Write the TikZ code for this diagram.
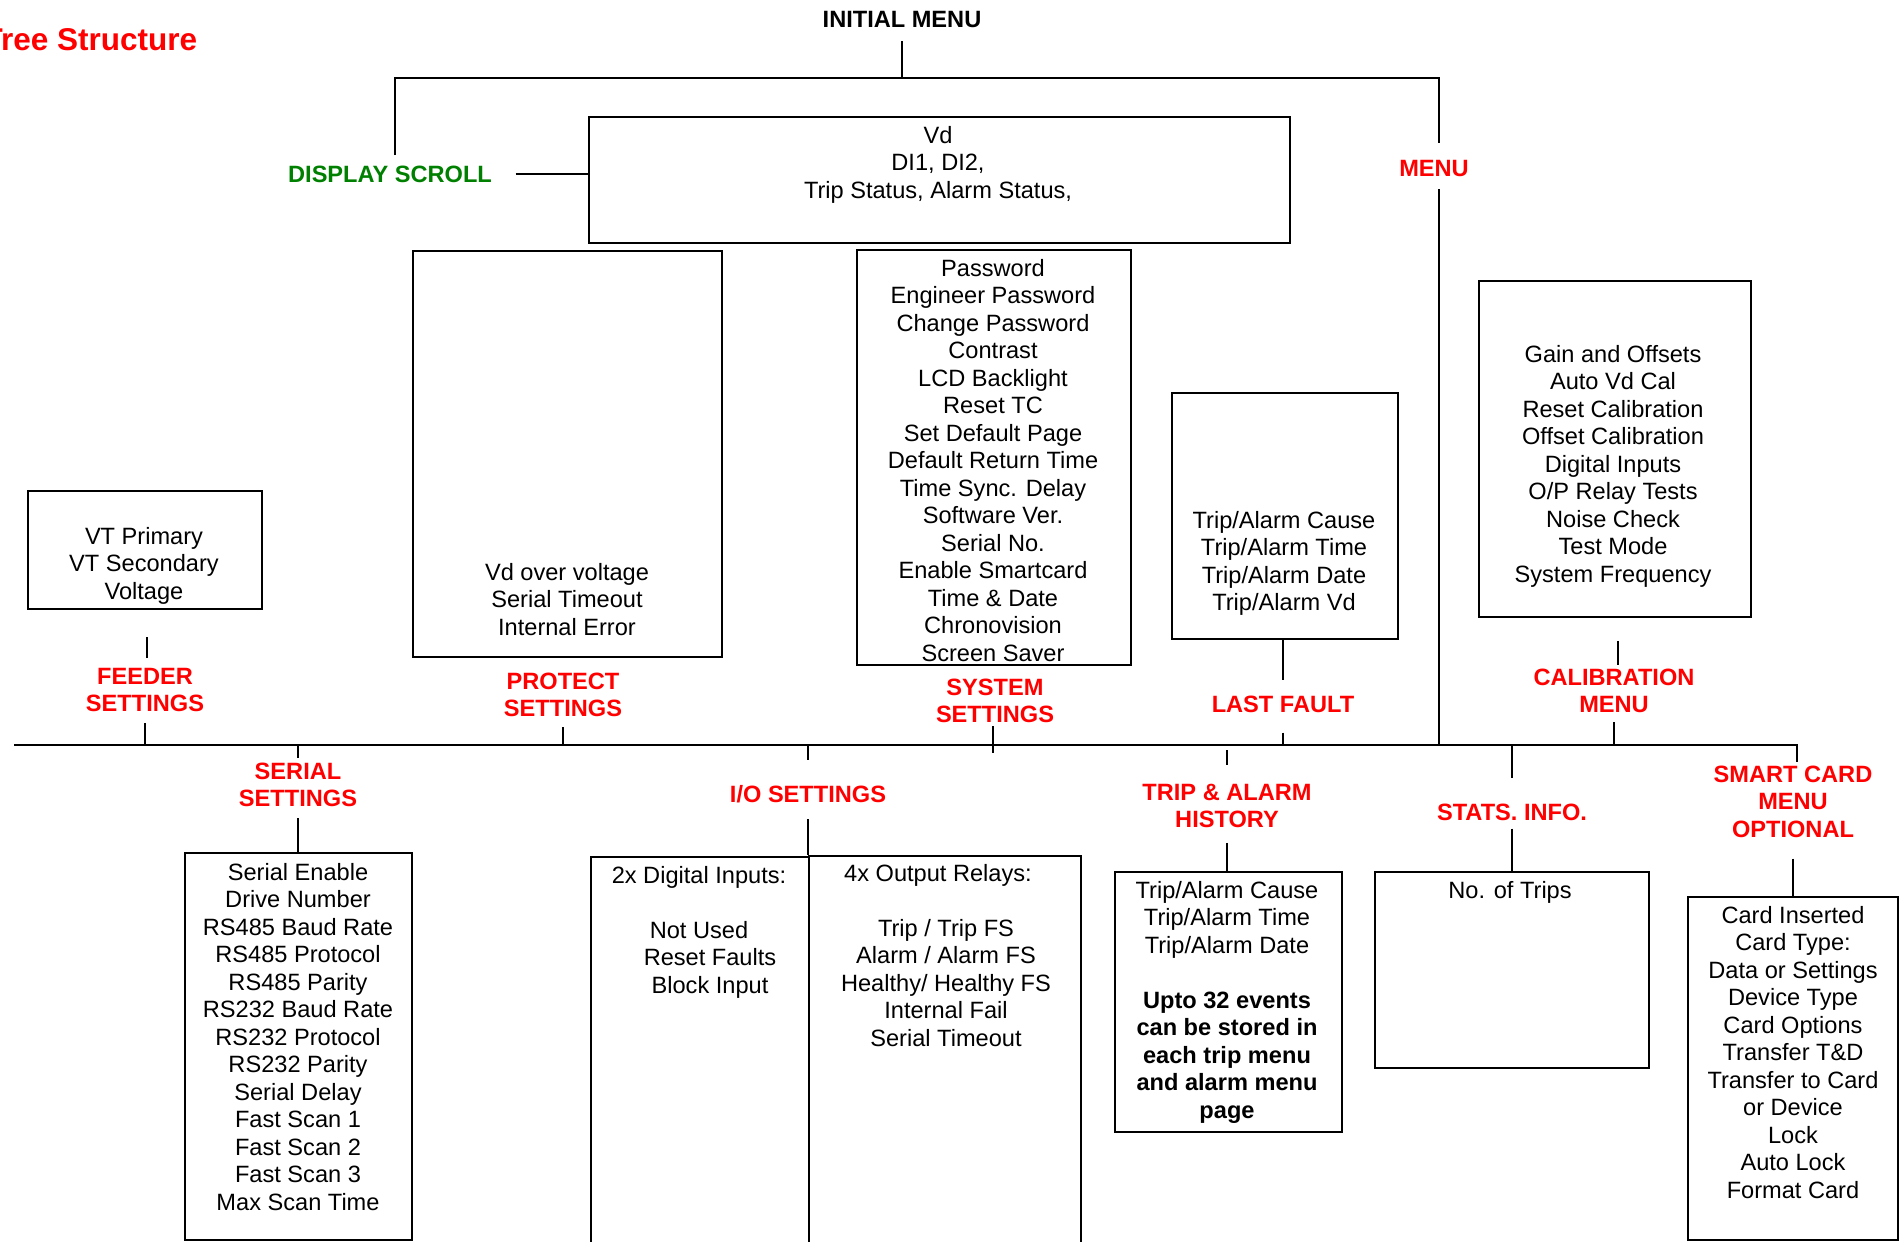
\documentclass[tikz,border=0pt]{standalone}
\usepackage{fontspec}
\setmainfont{Liberation Sans}
\usetikzlibrary{calc}

\begin{document}
\begin{tikzpicture}[x=1pt, y=-1pt, line width=1.8pt,
    box/.style={draw, anchor=north west, inner sep=0pt},
    txt/.style={anchor=north, inner sep=0pt, align=center, font=\fontsize{23.6}{27.5}\selectfont},
    lbl/.style={anchor=north, inner sep=0pt, align=center, text=red, font=\fontsize{23.6}{27.5}\selectfont\bfseries}]
  \useasboundingbox (0,0) rectangle (1899,1242);
  \node[anchor=north east, inner sep=0pt, text=red, font=\fontsize{31.5}{36}\selectfont\bfseries] (tree) at (198,28) {Tree Structure};
  \node[lbl, text=black] (init) at (902,10) {INITIAL MENU};
  \node[lbl, text=green!50!black] (dscroll) at (390,165) {DISPLAY SCROLL};
  \node[lbl] (menu) at (1434,159) {MENU};
  \coordinate (topL) at (395,78);
  \coordinate (topR) at (1439,78);
  \coordinate (busL) at (14,745);
  \coordinate (busR) at (1797,745);
  \node[box, minimum width=701pt, minimum height=126pt] (dispbox) at (588,116) {};
  \node[txt] (disptxt) at (938,125) {Vd\\DI1, DI2,\\Trip Status, Alarm Status,};
  \draw ($(init.south)+(0,13)$) -- (init.south |- topL);
  \draw ($(dscroll.north -| topL)+(0,-10)$) -- (topL) -- (topR) -- ($(menu.north -| topR)+(0,-16)$);
  \draw ($(menu.south -| topR)+(0,12)$) -- (topR |- busL);
  \draw ($(dscroll.east)+(23,0)$) -- (dscroll.east -| dispbox.west);

  \node[box, minimum width=234pt, minimum height=118pt] (feedbox) at (27,490) {};
  \node[txt] (feedtxt) at (144,526) {VT Primary\\VT Secondary\\Voltage};
  \node[box, minimum width=309pt, minimum height=406pt] (protbox) at (412,250) {};
  \node[txt] (prottxt) at (567,562) {Vd over voltage\\Serial Timeout\\Internal Error};
  \node[box, minimum width=274pt, minimum height=415pt] (sysbox) at (856,249) {};
  \node[txt] (systxt) at (993,258) {Password\\Engineer Password\\Change Password\\Contrast\\LCD Backlight\\Reset TC\\Set Default Page\\Default Return Time\\Time Sync. Delay\\Software Ver.\\Serial No.\\Enable Smartcard\\Time \& Date\\Chronovision\\Screen Saver};
  \node[box, minimum width=226pt, minimum height=246pt] (lastbox) at (1171,392) {};
  \node[txt] (lasttxt) at (1284,510) {Trip/Alarm Cause\\Trip/Alarm Time\\Trip/Alarm Date\\Trip/Alarm Vd};
  \node[box, minimum width=272pt, minimum height=336pt] (calbox) at (1478,280) {};
  \node[txt] (caltxt) at (1613,344) {Gain and Offsets\\Auto Vd Cal\\Reset Calibration\\Offset Calibration\\Digital Inputs\\O/P Relay Tests\\Noise Check\\Test Mode\\System Frequency};

  \node[lbl] (feedlbl) at (145,667) {FEEDER\\SETTINGS};
  \node[lbl] (protlbl) at (563,672) {PROTECT\\SETTINGS};
  \node[lbl] (syslbl) at (995,678) {SYSTEM\\SETTINGS};
  \node[lbl] (lastlbl) at (1283,695) {LAST FAULT};
  \node[lbl] (callbl) at (1614,668) {CALIBRATION\\MENU};
  \draw ($(feedlbl.north)+(2,-9)$) -- ++(0,-21);
  \draw ($(feedlbl.south)+(0,10)$) -- (feedlbl.south |- busL);
  \draw ($(protlbl.south)+(0,9)$) -- (protlbl.south |- busL);
  \draw ($(syslbl.south)+(-2,2)$) -- ++(0,27);
  \draw (lastlbl.north |- lastbox.south) -- ($(lastlbl.north)+(0,-15)$);
  \draw ($(lastlbl.south)+(0,19)$) -- (lastlbl.south |- busL);
  \draw ($(calbox.south)+(3,23)$) -- ++(0,24);
  \draw ($(callbl.south)+(0,8)$) -- (callbl.south |- busL);

  \node[lbl] (serlbl) at (298,762) {SERIAL\\SETTINGS};
  \node[lbl] (iolbl) at (808,784) {I/O SETTINGS};
  \node[lbl] (triplbl) at (1227,783) {TRIP \& ALARM\\HISTORY};
  \node[lbl] (statlbl) at (1512,803) {STATS. INFO.};
  \node[lbl] (smartlbl) at (1793,765) {SMART CARD\\MENU\\OPTIONAL};
  \node[box, minimum width=227pt, minimum height=387pt] (serbox) at (184,852) {};
  \node[txt] (sertxt) at (298,862) {Serial Enable\\Drive Number\\RS485 Baud Rate\\RS485 Protocol\\RS485 Parity\\RS232 Baud Rate\\RS232 Protocol\\RS232 Parity\\Serial Delay\\Fast Scan 1\\Fast Scan 2\\Fast Scan 3\\Max Scan Time};
  \node[box, minimum width=218pt, minimum height=404pt] (ioL) at (590,856) {};
  \node[box, minimum width=272pt, minimum height=405pt] (ioR) at (808,855) {};
  \node[txt] (ioLtxt) at (699,865) {2x Digital Inputs:\\ \mbox{}\\Not Used\\\hspace*{22pt}Reset Faults\\\hspace*{22pt}Block Input};
  \node[txt] (ioRtxt) at (946,863) {\hspace*{-16pt}4x Output Relays:\\ \mbox{}\\Trip / Trip FS\\Alarm / Alarm FS\\Healthy/ Healthy FS\\Internal Fail\\Serial Timeout};
  \node[box, minimum width=227pt, minimum height=260pt] (tripbox) at (1114,871) {};
  \node[txt] (triptxt) at (1227,880) {Trip/Alarm Cause\\Trip/Alarm Time\\Trip/Alarm Date\\ \mbox{}\\\textbf{Upto 32 events}\\\textbf{can be stored in}\\\textbf{each trip menu}\\\textbf{and alarm menu}\\\textbf{page}};
  \node[box, minimum width=274pt, minimum height=196pt] (statbox) at (1374,871) {};
  \node[txt] (stattxt) at (1510,880) {No. of Trips};
  \node[box, minimum width=210pt, minimum height=343pt] (smartbox) at (1687,896) {};
  \node[txt] (smarttxt) at (1793,905) {Card Inserted\\Card Type:\\Data or Settings\\Device Type\\Card Options\\Transfer T\&D\\Transfer to Card\\or Device\\Lock\\Auto Lock\\Format Card};

  \draw (serlbl.north |- busL) -- ($(serlbl.north)+(0,-4)$);
  \draw ($(serlbl.south)+(0,10)$) -- (serlbl.south |- serbox.north);
  \draw (iolbl.north |- busL) -- ++(0,15);
  \draw ($(iolbl.south)+(0,16)$) -- (ioR.north west);
  \draw ($(triplbl.north)+(0,-33)$) -- ++(0,15);
  \draw ($(triplbl.south)+(0,14)$) -- (triplbl.south |- tripbox.north);
  \draw (statlbl.north |- busL) -- ($(statlbl.north)+(0,-25)$);
  \draw ($(statlbl.south)+(0,7)$) -- (statlbl.south |- statbox.north);
  \draw (busL) -- (busR) -- ($(busR |- smartlbl.north)+(0,-3)$);
  \draw ($(smartlbl.south)+(0,20)$) -- (smartlbl.south |- smartbox.north);
\end{tikzpicture}
\end{document}
